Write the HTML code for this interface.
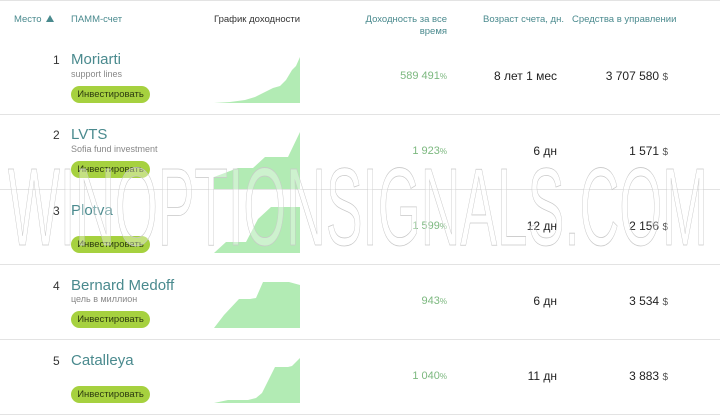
<!DOCTYPE html>
<html><head><meta charset="utf-8"><style>
body{margin:0;width:720px;height:415px;overflow:hidden;background:#fff;font-family:"Liberation Sans","Noto Sans CJK SC",sans-serif;position:relative}
.a{position:absolute;white-space:nowrap}
.h{font-size:9.5px;color:#4a8a8e}
.sep{position:absolute;left:0;width:720px;height:1px;background:#e3e3e3}
.num{font-size:12px;color:#333}
.nm{font-size:15px;color:#4a8a8e}
.sub{font-size:9px;color:#888}
.btn{position:absolute;left:71px;width:79px;height:17px;border-radius:9px;background:#a6d13f;color:#2c3a10;font-size:9.5px;text-align:center;line-height:17px}
.pc{font-size:11px;color:#7cb87f;text-align:right}
.pc small{font-size:8px}
.ag{font-size:12px;color:#222;text-align:right}
.mn{font-size:12px;color:#222;text-align:right}
.mn small{font-size:10px;color:#555}
</style></head><body>
<div class="a h" style="left:14px;top:14px">Место</div>
<div class="a" style="left:46px;top:15px;width:0;height:0;border-left:4px solid transparent;border-right:4px solid transparent;border-bottom:7px solid #4a8a8e"></div>
<div class="a h" style="left:71px;top:14px">ПАММ-счет</div>
<div class="a h" style="left:214px;top:14px;color:#333">График доходности</div>
<div class="a h" style="left:360px;top:14px;width:87px;text-align:right;white-space:normal;line-height:12px">Доходность за все время</div>
<div class="a h" style="left:483px;top:14px">Возраст счета, дн.</div>
<div class="a h" style="left:572px;top:14px">Средства в управлении</div>
<div class="sep" style="top:0"></div>
<div class="sep" style="top:114px"></div>
<div class="sep" style="top:189px"></div>
<div class="sep" style="top:264px"></div>
<div class="sep" style="top:339px"></div>
<div class="sep" style="top:414px"></div>

<svg class="a" style="left:0;top:0" width="720" height="415">
<g fill="#b2ebb4">
<polygon points="214,103 230,102 245,100 255,97 265,92 273,88 280,86 286,80 292,70 296,66 300,57 300,103"/>
<polygon points="214,177 238,168 253,168 265,157 288,157 300,132 300,189 214,189"/>
<polygon points="214,253 226,242 246,242 258,219 271,207 300,207 300,253"/>
<polygon points="214,328 224,315 239,299 250,299 256,298 263,282 289,282 300,285 300,328"/>
<polygon points="214,403 228,400 248,400 256,398 262,393 268,381 275,367 288,367 292,366 300,358 300,403"/>
</g>
</svg>

<div class="a num" style="left:53px;top:53px">1</div>
<div class="a nm" style="left:71px;top:51px">Moriarti</div>
<div class="a sub" style="left:71px;top:69px">support lines</div>
<div class="btn" style="top:86px">Инвестировать</div>
<div class="a pc" style="left:360px;top:70px;width:87px">589 491<small>%</small></div>
<div class="a ag" style="left:460px;top:69px;width:97px">8 лет 1 мес</div>
<div class="a mn" style="left:560px;top:69px;width:108px">3 707 580 <small>$</small></div>

<div class="a num" style="left:53px;top:128px">2</div>
<div class="a nm" style="left:71px;top:126px">LVTS</div>
<div class="a sub" style="left:71px;top:144px">Sofia fund investment</div>
<div class="btn" style="top:161px">Инвестировать</div>
<div class="a pc" style="left:360px;top:145px;width:87px">1 923<small>%</small></div>
<div class="a ag" style="left:460px;top:144px;width:97px">6 дн</div>
<div class="a mn" style="left:560px;top:144px;width:108px">1 571 <small>$</small></div>

<div class="a num" style="left:53px;top:204px">3</div>
<div class="a nm" style="left:71px;top:202px">Plotva</div>
<div class="btn" style="top:236px">Инвестировать</div>
<div class="a pc" style="left:360px;top:220px;width:87px">1 599<small>%</small></div>
<div class="a ag" style="left:460px;top:219px;width:97px">12 дн</div>
<div class="a mn" style="left:560px;top:219px;width:108px">2 156 <small>$</small></div>

<div class="a num" style="left:53px;top:279px">4</div>
<div class="a nm" style="left:71px;top:277px">Bernard Medoff</div>
<div class="a sub" style="left:71px;top:294px">цель в миллион</div>
<div class="btn" style="top:311px">Инвестировать</div>
<div class="a pc" style="left:360px;top:295px;width:87px">943<small>%</small></div>
<div class="a ag" style="left:460px;top:294px;width:97px">6 дн</div>
<div class="a mn" style="left:560px;top:294px;width:108px">3 534 <small>$</small></div>

<div class="a num" style="left:53px;top:354px">5</div>
<div class="a nm" style="left:71px;top:352px">Catalleya</div>
<div class="btn" style="top:386px">Инвестировать</div>
<div class="a pc" style="left:360px;top:370px;width:87px">1 040<small>%</small></div>
<div class="a ag" style="left:460px;top:369px;width:97px">11 дн</div>
<div class="a mn" style="left:560px;top:369px;width:108px">3 883 <small>$</small></div>

<svg class="a" style="left:0;top:0" width="720" height="415">
<text x="8" y="245" font-family="Liberation Sans Narrow, Liberation Sans, sans-serif" font-size="110" textLength="700" lengthAdjust="spacingAndGlyphs" fill="rgba(255,255,255,0.35)" stroke="#c8c8c8" stroke-width="0.8">WINOPTIONSIGNALS.COM</text>
</svg>
</body></html>
